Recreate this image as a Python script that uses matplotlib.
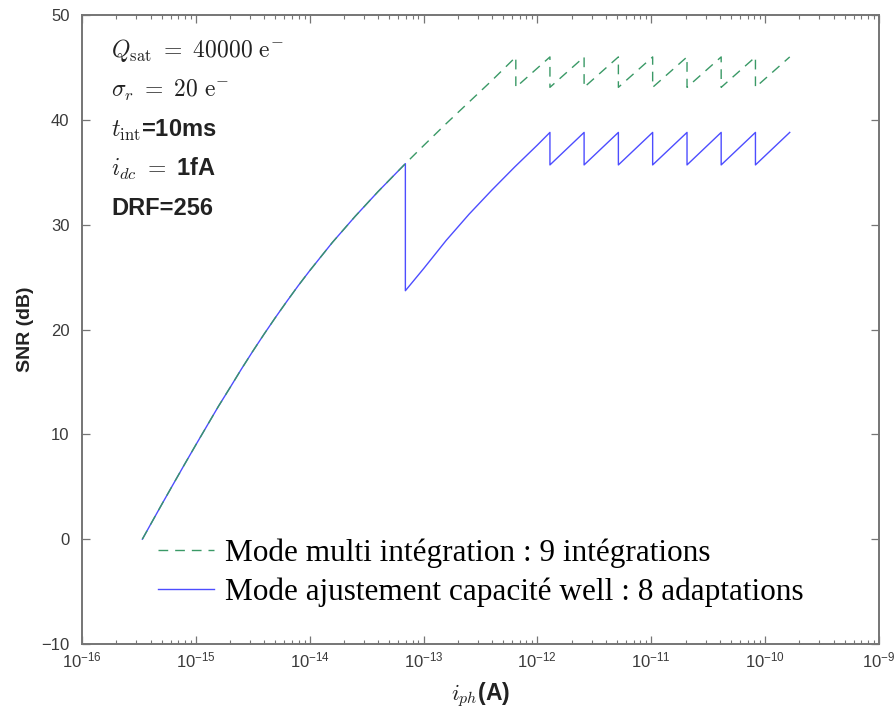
import matplotlib
matplotlib.use('Agg')
import numpy as np
from matplotlib import pyplot as plt
from matplotlib.ticker import LogLocator, NullFormatter, FixedLocator

plt.rcParams['font.family'] = ['Liberation Sans', 'DejaVu Sans']
plt.rcParams['mathtext.fontset'] = 'custom'
plt.rcParams['mathtext.rm'] = 'Liberation Sans'
plt.rcParams['mathtext.it'] = 'Liberation Sans:italic'
plt.rcParams['mathtext.bf'] = 'Liberation Sans:bold'

# partie commune (avant saturation du puits)
i_common = [3.39e-16, 3.98e-16, 5.01e-16, 6.31e-16, 7.94e-16, 1.0e-15, 1.26e-15,
            1.58e-15, 2.0e-15, 2.51e-15, 3.16e-15, 3.98e-15, 5.01e-15, 6.31e-15,
            7.94e-15, 1.0e-14, 1.58e-14, 2.51e-14, 3.98e-14, 6.92e-14]
snr_common = [0.0, 1.36, 3.30, 5.22, 7.12, 9.00, 10.86, 12.68, 14.47, 16.22,
              17.92, 19.57, 21.16, 22.70, 24.19, 25.61, 28.30, 30.80, 33.15, 35.82]

# mode multi integration : suite de la courbe jusqu'a Qsat
i_multi_rise = [1.0e-13, 1.58e-13, 2.51e-13, 3.98e-13, 6.46e-13]
snr_multi_rise = [37.54, 39.64, 41.70, 43.75, 46.0]
# basculements de temps d'integration
i_multi_switch = [6.46e-13, 1.288e-12, 2.57e-12, 5.14e-12, 1.028e-11, 2.06e-11, 4.11e-11, 8.22e-11]
snr_multi_top = [46.0, 46.0, 46.0, 46.0, 46.0, 46.0, 46.0, 46.0]
snr_multi_low = [43.1, 43.1, 43.1, 43.1, 43.1, 43.1, 43.1, 43.1]
i_end = 1.644e-10
snr_multi_end = 46.0

# mode ajustement capacite : premiere adaptation puis dents de scie
snr_well_first_low = 23.7
i_well_rise = [1.0e-13, 1.58e-13, 2.51e-13, 3.98e-13, 6.31e-13, 1.0e-12, 1.288e-12]
snr_well_rise = [25.8, 28.5, 31.0, 33.3, 35.5, 37.6, 38.8]
i_well_switch = [1.288e-12, 2.57e-12, 5.14e-12, 1.028e-11, 2.06e-11, 4.11e-11, 8.22e-11]
snr_well_top = [38.8, 38.8, 38.8, 38.8, 38.8, 38.8, 38.8]
snr_well_low = [35.7, 35.7, 35.7, 35.7, 35.7, 35.7, 35.7]
snr_well_end = 38.8

x_ticks = [1e-16, 1e-15, 1e-14, 1e-13, 1e-12, 1e-11, 1e-10, 1e-9]
y_ticks = [-10, 0, 10, 20, 30, 40, 50]

# construction des polylignes
x_multi = list(i_common) + i_multi_rise
y_multi = list(snr_common) + snr_multi_rise
for k in range(len(i_multi_switch)):
    if k > 0:
        x_multi.append(i_multi_switch[k])
        y_multi.append(snr_multi_top[k])
    x_multi.append(i_multi_switch[k])
    y_multi.append(snr_multi_low[k])
x_multi.append(i_end)
y_multi.append(snr_multi_end)

x_well = list(i_common) + [i_common[-1]] + i_well_rise
y_well = list(snr_common) + [snr_well_first_low] + snr_well_rise
for k in range(len(i_well_switch)):
    if k > 0:
        x_well.append(i_well_switch[k])
        y_well.append(snr_well_top[k])
    x_well.append(i_well_switch[k])
    y_well.append(snr_well_low[k])
x_well.append(i_end)
y_well.append(snr_well_end)

fig = plt.figure(figsize=(8.96, 7.18), dpi=100)
ax = fig.add_axes([82 / 896, 74 / 718, 797 / 896, 629 / 718])

green = '#3a9966'
blue = '#4d4dff'
ax.plot(x_well, y_well, color=blue, lw=1.0,
        label='Mode ajustement capacité well : 8 adaptations')
ax.plot(x_multi, y_multi, color=green, lw=1.0, dashes=(7, 5),
        label='Mode multi intégration : 9 intégrations')

ax.set_xscale('log')
ax.set_xlim(1e-16, 1e-9)
ax.set_ylim(-10, 50)
ax.xaxis.set_major_locator(FixedLocator(x_ticks))
ax.xaxis.set_minor_locator(LogLocator(base=10, subs=np.arange(2, 10), numticks=100))
ax.xaxis.set_minor_formatter(NullFormatter())
ax.set_yticks(y_ticks)

frame = '#757575'
for sp in ax.spines.values():
    sp.set_color(frame)
    sp.set_linewidth(1.4)
ax.tick_params(which='both', direction='in', top=True, right=True, color=frame,
               labelcolor='#3a3a3a', labelsize=12)
ax.tick_params(which='major', length=5.8, width=0.9)
ax.tick_params(which='minor', length=2.9, width=0.8)
ax.tick_params(axis='y', pad=9)
ax.tick_params(axis='x', pad=5)

ax.set_ylabel('SNR (dB)', fontsize=14, fontweight='bold', color='#222222', labelpad=5)
ax.set_xlabel(r'$i_{ph}$(A)', fontsize=16.5, fontweight='bold', color='#222222',
              labelpad=7, math_fontfamily='cm')

# parametres
params = [r'$Q_{\rm sat}\ =\ 40000\ {\rm e}^{-}$',
          r'$\sigma_r\ =\ 20\ {\rm e}^{-}$',
          r'$t_{\rm int}$=10ms',
          r'$i_{dc}\ =\ $1fA',
          'DRF=256']
base_y = [57, 96.5, 137, 176, 215.5]
for txt, by in zip(params, base_y):
    ax.text((111 - 82) / 797, (644 - by) / 629, txt, transform=ax.transAxes,
            fontsize=17, fontweight='bold', color='#222222', va='baseline',
            ha='left', math_fontfamily='cm')

handles, labels = ax.get_legend_handles_labels()
ax.legend(handles[::-1], labels[::-1], loc='upper left',
          bbox_to_anchor=(158 / 896, (718 - 538) / 718), bbox_transform=fig.transFigure,
          frameon=False, prop={'family': ['Liberation Serif'], 'size': 22.5},
          handlelength=1.8, handletextpad=0.33, labelspacing=0.32, borderpad=0,
          borderaxespad=0)

fig.savefig('out.png', dpi=100)
